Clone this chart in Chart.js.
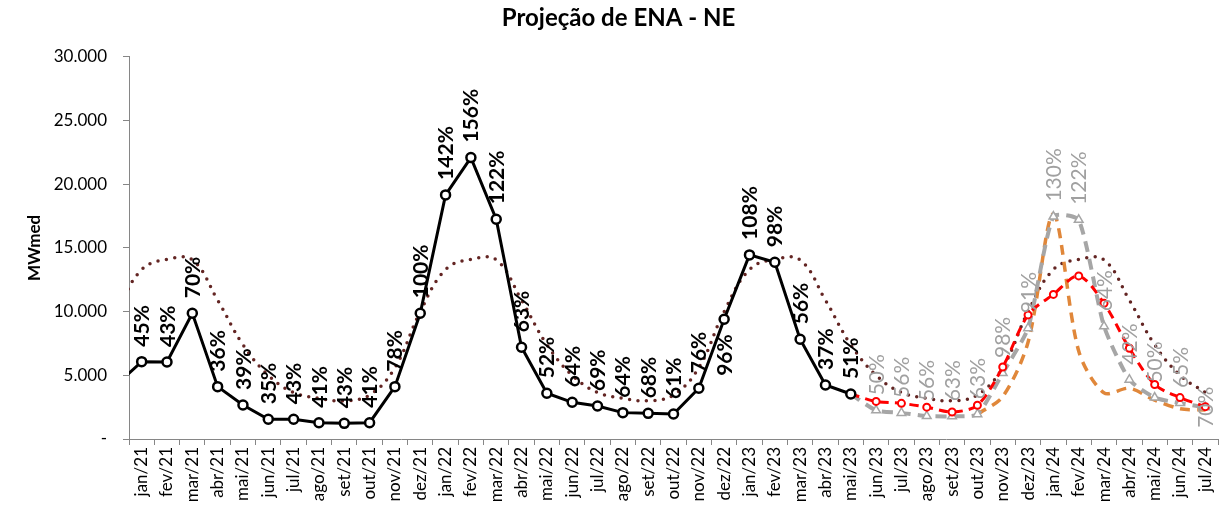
<!DOCTYPE html>
<html>
<head>
<meta charset="utf-8">
<script src="https://cdn.jsdelivr.net/npm/chart.js@4.4.1/dist/chart.umd.min.js"></script>
<style>
  body { margin: 0; background: #fff; }
  #wrap { width: 1229px; height: 509px; }
</style>
</head>
<body>
<div id="wrap"><canvas id="mycanvas"></canvas></div>
<script>
// months (dez/20 sits just left of the visible range so the lines enter from the axis)
var months = ['dez/20',
  'jan/21','fev/21','mar/21','abr/21','mai/21','jun/21','jul/21','ago/21','set/21','out/21','nov/21','dez/21',
  'jan/22','fev/22','mar/22','abr/22','mai/22','jun/22','jul/22','ago/22','set/22','out/22','nov/22','dez/22',
  'jan/23','fev/23','mar/23','abr/23','mai/23','jun/23','jul/23','ago/23','set/23','out/23','nov/23','dez/23',
  'jan/24','fev/24','mar/24','abr/24','mai/24','jun/24','jul/24'];

// ENA verificada (MWmed)
var verified = [4250,
  6070, 6040, 9870, 4110, 2670, 1550, 1550, 1280, 1230, 1280, 4110, 9870,
  19160, 22090, 17250, 7200, 3590, 2880, 2590, 2070, 2015, 1960, 3980, 9400,
  14450, 13870, 7830, 4240, 3530, null, null, null, null, null, null, null,
  null, null, null, null, null, null, null];

// % MLT of verified
var verifiedPct = [null,
  '45%','43%','70%','36%','39%','35%','43%','41%','43%','41%','78%','100%',
  '142%','156%','122%','63%','52%','64%','69%','64%','68%','61%','76%','96%',
  '108%','98%','56%','37%','51%', null, null, null, null, null, null, null,
  null, null, null, null, null, null, null];

// MLT
var mlt = [10000,
  13300, 14100, 14060, 10900, 7400, 5000, 3650, 3200, 3000, 3450, 5600, 10000,
  13300, 14100, 14060, 10900, 7400, 5000, 3650, 3200, 3000, 3450, 5600, 10000,
  13300, 14100, 14060, 10900, 7400, 5000, 3650, 3200, 3000, 3450, 5600, 10000,
  13300, 14100, 14060, 10900, 7400, 5000, 3650];

// projection (red)
var projRed = [null,
  null, null, null, null, null, null, null, null, null, null, null, null,
  null, null, null, null, null, null, null, null, null, null, null, null,
  null, null, null, null, 3530, 2950, 2800, 2500, 2120, 2650, 5650, 9740,
  11350, 12800, 10650, 7120, 4280, 3250, 2540];

// projection (gray)
var projGray = [null,
  null, null, null, null, null, null, null, null, null, null, null, null,
  null, null, null, null, null, null, null, null, null, null, null, null,
  null, null, null, null, 3530, 2250, 2050, 1800, 1780, 1950, 5180, 8700,
  17460, 17200, 8850, 4660, 3250, 2820, 2490];

var projGrayPct = [null,
  null, null, null, null, null, null, null, null, null, null, null, null,
  null, null, null, null, null, null, null, null, null, null, null, null,
  null, null, null, null, null, '50%','56%','56%','63%','63%','98%','91%',
  '130%','122%','64%','42%','50%','65%','70%'];

// projection (orange)
var projOrange = [null,
  null, null, null, null, null, null, null, null, null, null, null, null,
  null, null, null, null, null, null, null, null, null, null, null, null,
  null, null, null, null, null, null, null, null, null, 1950, 3320, 7600,
  17650, 6900, 3620, 3980, 3050, 2380, 2280];

var FONT = 'Lato, "Open Sans", sans-serif';

// rotated % labels next to the points
var rotLabels = {
  id: 'rotLabels',
  afterDatasetsDraw: function(chart) {
    var ctx = chart.ctx;
    chart.data.datasets.forEach(function(ds, i) {
      if (!ds.pctLabels) return;
      var meta = chart.getDatasetMeta(i);
      var size = ds.labelSize;
      meta.data.forEach(function(pt, j) {
        var txt = ds.pctLabels[j];
        if (!txt || pt.skip) return;
        var pos = (ds.labelPos && ds.labelPos[j]) || 'above';
        ctx.save();
        ctx.translate(pt.x, pt.y);
        ctx.rotate(-Math.PI / 2);
        ctx.font = ds.labelWeight + ' ' + size + 'px ' + FONT;
        ctx.fillStyle = ds.labelColor;
        ctx.textBaseline = 'alphabetic';
        var dy = size * 0.36;
        if (pos == 'below') {
          ctx.textAlign = 'right';
          ctx.fillText(txt, -15, dy);
        } else if (pos == 'center') {
          ctx.textAlign = 'center';
          ctx.fillText(txt, 0, dy);
        } else {
          ctx.textAlign = 'left';
          ctx.fillText(txt, 15, dy);
        }
        ctx.restore();
      });
    });
  }
};

function hideJoin(c) {
  return verified[c.dataIndex] != null;
}

var chart = new Chart(document.getElementById('mycanvas'), {
  type: 'line',
  data: {
    labels: months,
    datasets: [
      {
        label: 'Verificada',
        data: verified,
        borderColor: '#000',
        borderWidth: 3,
        pointRadius: 4.5,
        pointBorderWidth: 2.5,
        pointBorderColor: '#000',
        pointBackgroundColor: '#fff',
        tension: 0,
        order: 0,
        pctLabels: verifiedPct,
        labelPos: { 24: 'below' },
        labelColor: '#000',
        labelWeight: 'bold',
        labelSize: 21
      },
      {
        label: 'Projeção',
        data: projRed,
        borderColor: '#ff0000',
        borderWidth: 3,
        borderDash: [9, 6],
        pointRadius: function(c) { return hideJoin(c) ? 0 : 3.5; },
        pointBorderWidth: 2,
        pointBorderColor: '#ff0000',
        pointBackgroundColor: '#fff',
        tension: 0.3,
        order: 1
      },
      {
        label: 'Projeção 2',
        data: projGray,
        borderColor: '#a6a6a6',
        borderWidth: 4,
        borderDash: [11, 7],
        pointStyle: 'triangle',
        pointRadius: function(c) { return hideJoin(c) ? 0 : 5; },
        pointBorderWidth: 1.5,
        pointBorderColor: '#a6a6a6',
        pointBackgroundColor: '#fff',
        tension: 0.2,
        order: 2,
        pctLabels: projGrayPct,
        labelPos: { 43: 'center' },
        labelColor: '#a0a0a0',
        labelWeight: 'normal',
        labelSize: 21
      },
      {
        label: 'Projeção 3',
        data: projOrange,
        borderColor: '#e0873a',
        borderWidth: 3.5,
        borderDash: [10, 7],
        pointRadius: 0,
        tension: 0.3,
        order: 3
      },
      {
        label: 'MLT',
        data: mlt,
        borderColor: '#632523',
        borderWidth: 3.5,
        borderDash: [0, 8.5],
        borderCapStyle: 'round',
        pointRadius: 0,
        tension: 0.4,
        order: 4
      }
    ]
  },
  options: {
    responsive: true,
    maintainAspectRatio: false,
    animation: false,
    layout: { padding: { left: 19, right: 11, top: 0, bottom: 0 } },
    plugins: {
      legend: { display: false },
      tooltip: { enabled: false },
      title: {
        display: true,
        text: 'Projeção de ENA - NE',
        color: '#000',
        font: { family: FONT, size: 24, weight: 'bold', lineHeight: 1.2 },
        padding: { top: 4, bottom: 24 }
      }
    },
    scales: {
      x: {
        type: 'category',
        min: 'jan/21',
        offset: true,
        grid: { offset: true, drawOnChartArea: false, tickLength: 6, color: '#868686' },
        border: { color: '#868686' },
        ticks: {
          autoSkip: false,
          maxRotation: 90,
          minRotation: 90,
          padding: 2,
          color: '#000',
          font: { family: FONT, size: 17 }
        },
        afterFit: function(scale) { scale.height = 70; }
      },
      y: {
        min: 0,
        max: 30000,
        grid: { drawOnChartArea: false, tickLength: 6, color: '#868686' },
        border: { color: '#868686' },
        ticks: {
          stepSize: 5000,
          padding: 16,
          color: '#000',
          font: { family: FONT, size: 17 },
          callback: function(v) {
            if (v === 0) return '-';
            return v.toString().replace(/\B(?=(\d{3})+(?!\d))/g, '.');
          }
        },
        title: {
          display: true,
          text: 'MWmed',
          color: '#000',
          font: { family: FONT, size: 17, weight: 'bold' },
          padding: { top: 5, bottom: 0 }
        },
        afterFit: function(scale) { scale.width = 110; }
      }
    }
  },
  plugins: [rotLabels]
});
</script>
</body>
</html>
